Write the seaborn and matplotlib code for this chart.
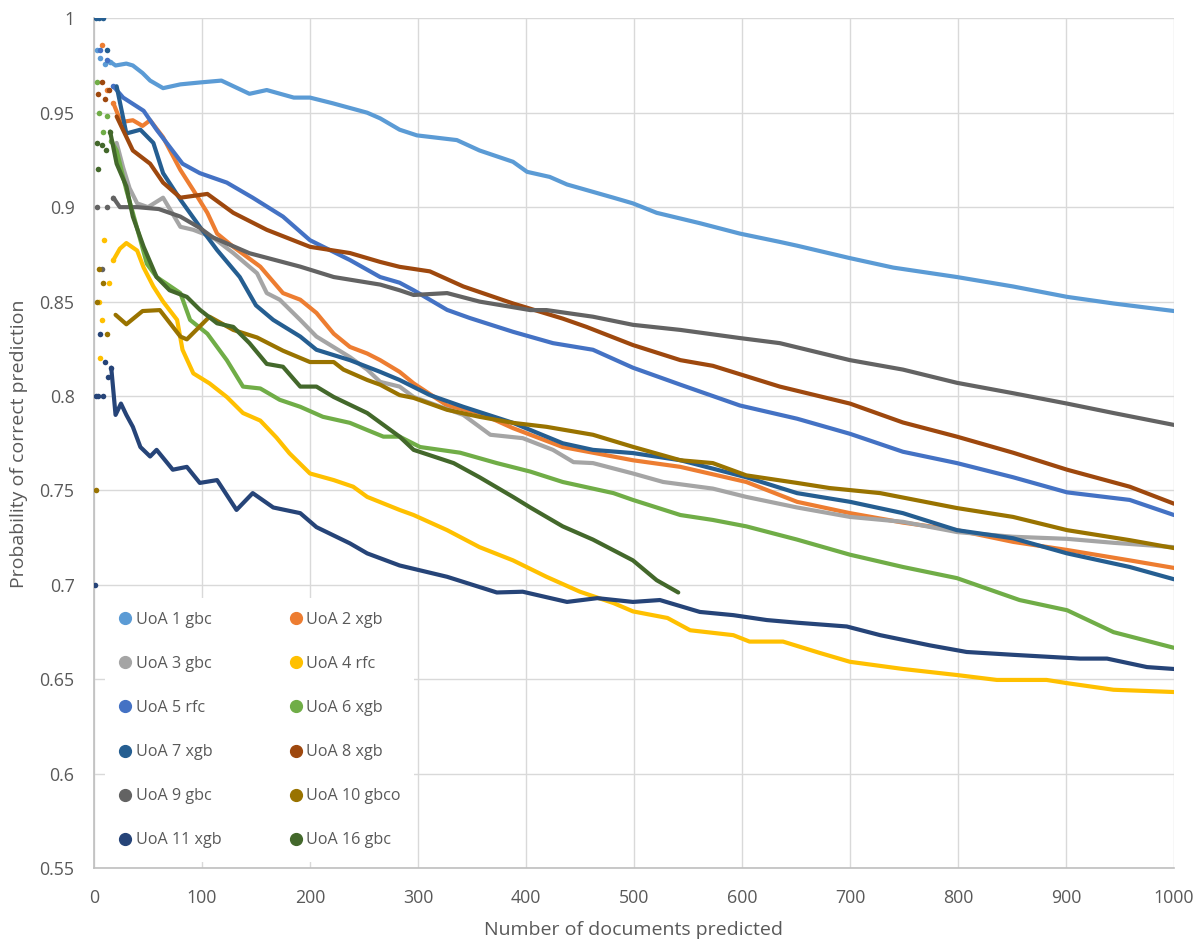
import pandas as pd
import matplotlib.pyplot as plt
from matplotlib.lines import Line2D
from matplotlib.ticker import FuncFormatter
import seaborn as sns

labels = ['UoA 1 gbc', 'UoA 2 xgb', 'UoA 3 gbc', 'UoA 4 rfc', 'UoA 5 rfc', 'UoA 6 xgb',
          'UoA 7 xgb', 'UoA 8 xgb', 'UoA 9 gbc', 'UoA 10 gbco', 'UoA 11 xgb', 'UoA 16 gbc']
colors = ['#5B9BD5', '#ED7D31', '#A5A5A5', '#FFC000', '#4472C4', '#70AD47',
          '#255E91', '#9E480E', '#636363', '#997300', '#264478', '#43682B']

# values (x = number of documents, y = probability)
x_uoa1 = [3, 6, 10, 15, 20, 30, 36, 45, 52, 64, 80, 98, 118, 144, 160, 185, 200, 221, 253, 265, 283, 299,
          336, 357, 388, 401, 422, 438, 481, 499, 521, 561, 598, 635, 651, 700, 740, 799, 851, 901, 944, 1000]
y_uoa1 = [0.983, 0.979, 0.976, 0.977, 0.975, 0.976, 0.975, 0.971, 0.967, 0.963, 0.965, 0.966, 0.967, 0.960,
          0.962, 0.958, 0.958, 0.955, 0.950, 0.947, 0.941, 0.938, 0.9355, 0.930, 0.924, 0.9187, 0.916, 0.912,
          0.905, 0.902, 0.897, 0.8915, 0.886, 0.8816, 0.8796, 0.873, 0.868, 0.863, 0.858, 0.8525, 0.849, 0.845]

x_uoa2 = [7, 12, 18, 25, 36, 45, 52, 64, 80, 92, 105, 114, 129, 154, 175, 191, 206, 222, 237, 253, 265, 283,
          296, 327, 357, 388, 434, 462, 499, 543, 604, 651, 700, 749, 799, 851, 901, 959, 1000]
y_uoa2 = [0.986, 0.962, 0.955, 0.945, 0.946, 0.943, 0.946, 0.937, 0.9197, 0.909, 0.897, 0.886, 0.879, 0.8685,
          0.8545, 0.851, 0.844, 0.833, 0.826, 0.8225, 0.819, 0.8128, 0.8067, 0.795, 0.791, 0.783, 0.773, 0.770,
          0.766, 0.7625, 0.7545, 0.744, 0.738, 0.733, 0.729, 0.7228, 0.7185, 0.713, 0.709]

x_uoa3 = [21, 27, 33, 40, 50, 64, 80, 92, 110, 129, 151, 160, 172, 191, 206, 237, 253, 265, 283, 296, 342,
          367, 397, 425, 444, 462, 499, 527, 573, 604, 651, 700, 749, 799, 851, 901, 944, 1000]
y_uoa3 = [0.934, 0.921, 0.910, 0.902, 0.900, 0.905, 0.8896, 0.888, 0.884, 0.8757, 0.865, 0.8545, 0.851, 0.8403,
          0.8315, 0.8206, 0.814, 0.8075, 0.805, 0.7995, 0.790, 0.7795, 0.7777, 0.7715, 0.765, 0.7645, 0.759,
          0.7545, 0.751, 0.7466, 0.741, 0.736, 0.7334, 0.728, 0.7255, 0.7244, 0.7223, 0.720]

x_uoa4 = [5, 6, 7, 9, 14, 18, 24, 30, 40, 46, 55, 64, 77, 82, 92, 107, 123, 138, 154, 169, 181, 200, 222,
          240, 253, 283, 296, 327, 357, 388, 419, 450, 481, 499, 531, 552, 592, 607, 638, 672, 700, 749, 799,
          836, 882, 901, 944, 1000]
y_uoa4 = [0.850, 0.820, 0.840, 0.8825, 0.860, 0.872, 0.878, 0.881, 0.877, 0.868, 0.858, 0.850, 0.8403, 0.8245,
          0.812, 0.8067, 0.7995, 0.791, 0.787, 0.778, 0.7697, 0.759, 0.7555, 0.752, 0.7466, 0.7397, 0.737, 0.729,
          0.720, 0.713, 0.7043, 0.6964, 0.6904, 0.686, 0.6825, 0.676, 0.6734, 0.670, 0.670, 0.664, 0.6593,
          0.6555, 0.6523, 0.6497, 0.6497, 0.648, 0.6445, 0.6433]

x_uoa5 = [6, 12, 18, 27, 46, 58, 70, 82, 98, 123, 147, 175, 200, 237, 265, 283, 296, 327, 348, 388, 425, 462,
          499, 543, 598, 651, 700, 749, 799, 851, 901, 959, 1000]
y_uoa5 = [0.983, 0.978, 0.964, 0.958, 0.951, 0.941, 0.932, 0.923, 0.918, 0.913, 0.905, 0.895, 0.8825, 0.872,
          0.863, 0.860, 0.856, 0.8456, 0.8413, 0.834, 0.828, 0.8245, 0.815, 0.806, 0.795, 0.788, 0.780, 0.7705,
          0.7645, 0.757, 0.749, 0.745, 0.737]

x_uoa6 = [3, 5, 8, 12, 16, 21, 30, 36, 43, 49, 58, 80, 89, 105, 123, 138, 154, 172, 191, 212, 237, 253, 268,
          283, 302, 339, 373, 404, 434, 481, 499, 543, 573, 604, 651, 700, 749, 799, 857, 901, 944, 1000]
y_uoa6 = [0.966, 0.950, 0.940, 0.948, 0.935, 0.930, 0.909, 0.897, 0.8825, 0.870, 0.863, 0.8545, 0.8403, 0.833,
          0.819, 0.805, 0.804, 0.798, 0.7943, 0.789, 0.7858, 0.782, 0.7785, 0.7785, 0.773, 0.770, 0.7645, 0.760,
          0.7545, 0.7486, 0.745, 0.737, 0.7344, 0.731, 0.724, 0.716, 0.7095, 0.7036, 0.692, 0.6866, 0.675, 0.6667]

x_uoa7 = [2, 5, 8, 12, 21, 30, 43, 55, 64, 80, 98, 114, 135, 150, 166, 191, 206, 237, 265, 283, 311, 342, 388,
          434, 462, 499, 543, 604, 651, 700, 749, 799, 851, 901, 959, 1000]
y_uoa7 = [1.0, 1.0, 1.0, 0.983, 0.964, 0.939, 0.941, 0.934, 0.918, 0.904, 0.8896, 0.8773, 0.863, 0.848, 0.8403,
          0.8315, 0.8245, 0.819, 0.8128, 0.8085, 0.8005, 0.7943, 0.7858, 0.775, 0.7715, 0.7698, 0.766, 0.757,
          0.7486, 0.744, 0.738, 0.729, 0.7247, 0.7167, 0.7095, 0.703]

x_uoa8 = [4, 7, 10, 14, 21, 36, 52, 64, 80, 105, 129, 160, 200, 237, 265, 283, 311, 342, 388, 434, 456, 499,
          543, 573, 635, 700, 749, 799, 851, 901, 959, 1000]
y_uoa8 = [0.960, 0.966, 0.957, 0.962, 0.948, 0.930, 0.923, 0.913, 0.905, 0.907, 0.897, 0.888, 0.879, 0.8757,
          0.871, 0.8684, 0.866, 0.858, 0.849, 0.841, 0.8366, 0.827, 0.819, 0.816, 0.805, 0.796, 0.786, 0.7785,
          0.770, 0.761, 0.752, 0.743]

x_uoa9 = [3, 7, 12, 18, 24, 40, 60, 80, 98, 110, 144, 191, 222, 265, 283, 296, 327, 357, 404, 419, 462, 499,
          543, 598, 635, 700, 749, 799, 851, 901, 944, 1000]
y_uoa9 = [0.900, 0.867, 0.900, 0.905, 0.900, 0.900, 0.899, 0.895, 0.889, 0.884, 0.8756, 0.8685, 0.863, 0.859,
          0.856, 0.8535, 0.8545, 0.850, 0.8455, 0.8455, 0.842, 0.8377, 0.835, 0.8307, 0.828, 0.819, 0.814,
          0.807, 0.8015, 0.796, 0.791, 0.7847]

x_uoa10 = [2, 3, 5, 8, 12, 20, 30, 45, 61, 80, 86, 107, 129, 151, 175, 200, 222, 231, 253, 265, 283, 296, 327,
           357, 388, 419, 462, 499, 543, 573, 604, 651, 681, 728, 799, 851, 901, 959, 1000]
y_uoa10 = [0.750, 0.850, 0.867, 0.860, 0.833, 0.843, 0.838, 0.845, 0.8455, 0.8315, 0.830, 0.842, 0.835, 0.831,
           0.824, 0.818, 0.818, 0.814, 0.8085, 0.806, 0.8005, 0.799, 0.7927, 0.789, 0.7858, 0.7837, 0.7795,
           0.7731, 0.766, 0.7645, 0.758, 0.754, 0.7513, 0.7486, 0.7407, 0.736, 0.729, 0.7237, 0.7195]

x_uoa11 = [1, 2, 4, 6, 8, 10, 13, 16, 20, 25, 30, 36, 43, 52, 58, 73, 86, 98, 114, 132, 147, 166, 191, 206,
           237, 253, 283, 327, 373, 397, 438, 466, 499, 524, 561, 592, 623, 651, 697, 728, 774, 808, 851, 913,
           938, 975, 1000]
y_uoa11 = [0.700, 0.800, 0.800, 0.833, 0.800, 0.818, 0.810, 0.815, 0.790, 0.796, 0.790, 0.7837, 0.773, 0.768,
           0.7715, 0.761, 0.7625, 0.754, 0.7555, 0.7397, 0.7486, 0.741, 0.738, 0.7306, 0.722, 0.7167, 0.7103,
           0.7043, 0.696, 0.6964, 0.691, 0.693, 0.691, 0.692, 0.6857, 0.684, 0.6814, 0.680, 0.678, 0.6734,
           0.668, 0.6645, 0.663, 0.661, 0.661, 0.6565, 0.6555]

x_uoa16 = [3, 4, 7, 11, 15, 21, 30, 36, 46, 58, 70, 86, 98, 114, 129, 144, 160, 175, 191, 206, 222, 253, 283,
           296, 333, 357, 388, 404, 434, 462, 499, 521, 541]
y_uoa16 = [0.934, 0.920, 0.933, 0.930, 0.940, 0.923, 0.911, 0.895, 0.879, 0.863, 0.856, 0.8525, 0.8457, 0.8385,
           0.8366, 0.828, 0.817, 0.8155, 0.805, 0.805, 0.7995, 0.791, 0.7785, 0.7715, 0.7645, 0.757, 0.7466,
           0.741, 0.731, 0.724, 0.713, 0.7025, 0.696]

series = [(x_uoa1, y_uoa1), (x_uoa2, y_uoa2), (x_uoa3, y_uoa3), (x_uoa4, y_uoa4),
          (x_uoa5, y_uoa5), (x_uoa6, y_uoa6), (x_uoa7, y_uoa7), (x_uoa8, y_uoa8),
          (x_uoa9, y_uoa9), (x_uoa10, y_uoa10), (x_uoa11, y_uoa11), (x_uoa16, y_uoa16)]

sns.set_theme(style='whitegrid')
plt.rcParams['font.family'] = ['Open Sans', 'DejaVu Sans']

fig = plt.figure(figsize=(12.03, 9.41), dpi=100)
ax = fig.add_axes([0.0781, 0.0773, 0.8978, 0.9033])

for i, (lab, col, (xs, ys)) in enumerate(zip(labels, colors, series)):
    df = pd.DataFrame({'x': xs, 'y': ys})
    line = df[df.x >= 15]
    dots = df[df.x < 20]
    sns.lineplot(data=line, x='x', y='y', color=col, lw=3, ax=ax, estimator=None,
                 sort=False, zorder=3 + i)
    sns.scatterplot(data=dots, x='x', y='y', color=col, s=16, linewidth=0, ax=ax,
                    zorder=3 + i)

ax.set_xlim(0, 1000)
ax.set_ylim(0.55, 1.0)
ax.set_xticks(range(0, 1001, 100))
ax.set_yticks([0.55 + 0.05 * k for k in range(10)])
ax.yaxis.set_major_formatter(FuncFormatter(lambda v, p: '%g' % round(v, 2)))

ax.grid(True, color='#D9D9D9', lw=1)
for s in ['top', 'right']:
    ax.spines[s].set_visible(False)
for s in ['left', 'bottom']:
    ax.spines[s].set_color('#BFBFBF')
    ax.spines[s].set_linewidth(1.2)
ax.tick_params(length=0, colors='#595959', labelsize=12.8)
ax.tick_params(axis='y', pad=14)
ax.tick_params(axis='x', pad=15)

ax.set_xlabel('Number of documents predicted', fontsize=14, color='#595959', labelpad=10)
ax.set_ylabel('Probability of correct prediction', fontsize=14, color='#595959', labelpad=8)

# legend filled row by row like the original
order = [0, 2, 4, 6, 8, 10, 1, 3, 5, 7, 9, 11]
handles = [Line2D([], [], marker='o', ls='', color=colors[k], markersize=8.5) for k in order]
leg = ax.legend(handles, [labels[k] for k in order], ncol=2, loc='upper left',
                bbox_to_anchor=(0.003, 0.327), frameon=True, facecolor='white',
                edgecolor='none', framealpha=1, fontsize=11.6, labelspacing=1.74,
                handlelength=0.8, handletextpad=0.25, columnspacing=4.2, borderpad=0.85,
                fancybox=False)
leg.set_zorder(20)
for t in leg.get_texts():
    t.set_color('#595959')

plt.savefig('out.png', dpi=100)
